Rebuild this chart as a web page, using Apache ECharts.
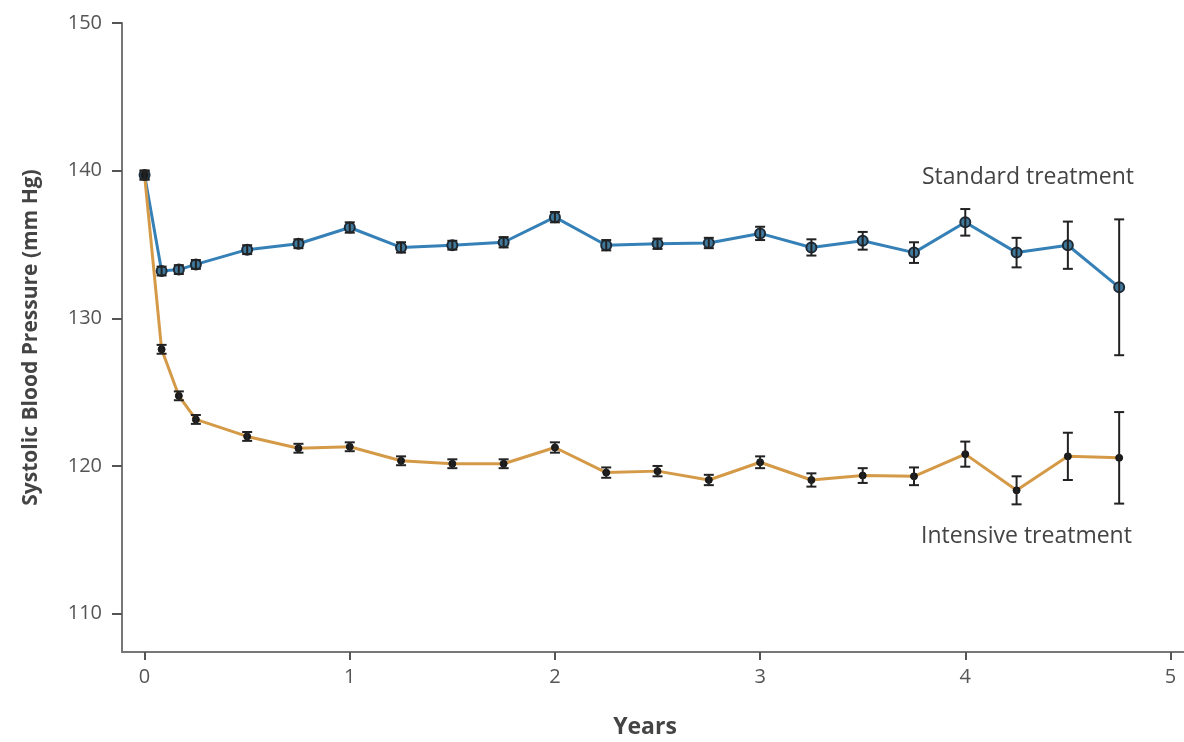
<!DOCTYPE html>
<html>
<head>
<meta charset="utf-8">
<script src="https://cdn.jsdelivr.net/npm/echarts@6/dist/echarts.min.js"></script>
<style>
html,body{margin:0;padding:0;background:#fff;}
#c{width:1184px;height:742px;}
</style>
</head>
<body>
<div id="c"></div>
<script>
var years = [0, 0.083, 0.167, 0.25, 0.5, 0.75, 1, 1.25, 1.5, 1.75, 2, 2.25, 2.5, 2.75, 3, 3.25, 3.5, 3.75, 4, 4.25, 4.5, 4.75];
var standardMean = [139.7, 133.2, 133.3, 133.65, 134.65, 135.05, 136.15, 134.8, 134.95, 135.15, 136.85, 134.95, 135.05, 135.1, 135.75, 134.8, 135.25, 134.45, 136.5, 134.45, 134.95, 132.1];
var standardErr = [0.3, 0.3, 0.3, 0.3, 0.3, 0.3, 0.35, 0.35, 0.3, 0.35, 0.35, 0.35, 0.35, 0.35, 0.45, 0.55, 0.6, 0.7, 0.9, 1.0, 1.6, 4.6];
var intensiveMean = [139.7, 127.9, 124.75, 123.15, 122.0, 121.2, 121.3, 120.35, 120.15, 120.15, 121.25, 119.55, 119.65, 119.05, 120.25, 119.05, 119.35, 119.3, 120.8, 118.35, 120.65, 120.55];
var intensiveErr = [0.3, 0.3, 0.3, 0.3, 0.3, 0.3, 0.3, 0.3, 0.3, 0.3, 0.35, 0.35, 0.35, 0.35, 0.4, 0.45, 0.5, 0.6, 0.85, 0.95, 1.6, 3.1];
var xTicks = [0, 1, 2, 3, 4, 5];
var yTicks = [110, 120, 130, 140, 150];
var seriesNames = ['Standard treatment', 'Intensive treatment'];

function pairs(m) { return years.map(function (x, i) { return [x, m[i]]; }); }
function errData(m, e) { return years.map(function (x, i) { return [x, m[i] - e[i], m[i] + e[i]]; }); }

function errRender(params, api) {
  var x = api.value(0);
  var lo = api.coord([x, api.value(1)]);
  var hi = api.coord([x, api.value(2)]);
  var w = 5;
  var st = { stroke: '#222', lineWidth: 2 };
  return {
    type: 'group',
    children: [
      { type: 'line', shape: { x1: lo[0], y1: lo[1], x2: hi[0], y2: hi[1] }, style: st },
      { type: 'line', shape: { x1: lo[0] - w, y1: lo[1], x2: lo[0] + w, y2: lo[1] }, style: st },
      { type: 'line', shape: { x1: hi[0] - w, y1: hi[1], x2: hi[0] + w, y2: hi[1] }, style: st }
    ]
  };
}

var chart = echarts.init(document.getElementById('c'));
var font = 'Open Sans';
chart.setOption({
  animation: false,
  backgroundColor: '#fff',
  grid: { left: 122, right: 0, top: 23, bottom: 90, containLabel: false, outerBoundsMode: 'none' },
  xAxis: {
    type: 'value', min: -0.11, max: 5.066,
    splitLine: { show: false },
    axisLine: { show: true, onZero: false, lineStyle: { color: '#777', width: 2 } },
    axisTick: { show: true, customValues: xTicks, length: 8, lineStyle: { color: '#555', width: 2 } },
    axisLabel: { customValues: xTicks, color: '#555', fontSize: 20, fontFamily: font, margin: 15 },
    name: 'Years', nameLocation: 'middle', nameGap: 64,
    nameTextStyle: { color: '#444', fontSize: 23, fontWeight: 'bold', fontFamily: font, padding: [0, 16, 0, 0] }
  },
  yAxis: {
    type: 'value', min: 107.4, max: 150,
    splitLine: { show: false },
    axisLine: { show: true, onZero: false, lineStyle: { color: '#777', width: 2 } },
    axisTick: { show: true, customValues: yTicks, length: 10, lineStyle: { color: '#555', width: 2 } },
    axisLabel: { customValues: yTicks, color: '#555', fontSize: 20, fontFamily: font, margin: 20 },
    name: 'Systolic Blood Pressure (mm Hg)', nameLocation: 'middle', nameGap: 80, nameRotate: 90,
    nameTextStyle: { color: '#444', fontSize: 21, fontWeight: 'bold', fontFamily: font }
  },
  series: [
    {
      name: seriesNames[0], type: 'line', data: pairs(standardMean), z: 2,
      lineStyle: { color: '#3580b6', width: 3 },
      symbol: 'circle', symbolSize: 10,
      itemStyle: { color: '#40789c', borderColor: '#1d2b38', borderWidth: 2 }
    },
    {
      name: seriesNames[1], type: 'line', data: pairs(intensiveMean), z: 2,
      lineStyle: { color: '#d49a48', width: 3 },
      symbol: 'circle', symbolSize: 7,
      itemStyle: { color: '#1a1a1a', borderColor: '#1a1a1a', borderWidth: 1 }
    },
    { type: 'custom', data: errData(standardMean, standardErr), renderItem: errRender, z: 3, encode: { x: 0, y: [1, 2] } },
    { type: 'custom', data: errData(intensiveMean, intensiveErr), renderItem: errRender, z: 3, encode: { x: 0, y: [1, 2] } }
  ],
  graphic: [
    { type: 'text', left: 922, top: 166, style: { text: seriesNames[0], fill: '#444', fontSize: 23, fontFamily: font } },
    { type: 'text', left: 921, top: 525, style: { text: seriesNames[1], fill: '#444', fontSize: 23, fontFamily: font } }
  ]
});
</script>
</body>
</html>
